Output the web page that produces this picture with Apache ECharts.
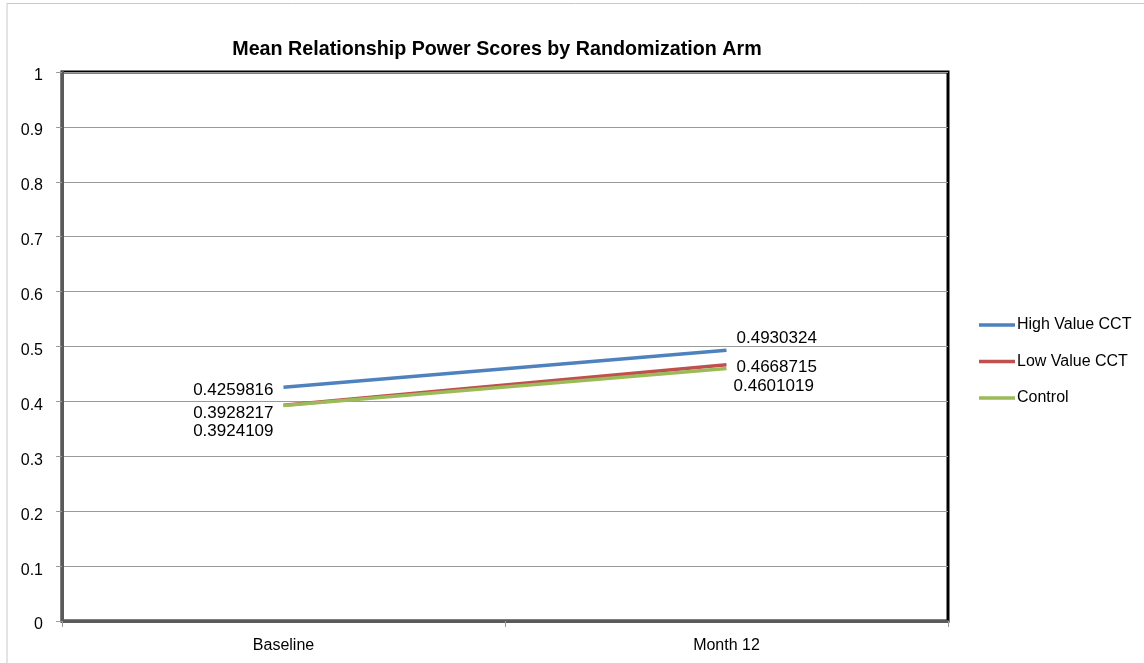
<!DOCTYPE html>
<html>
<head>
<meta charset="utf-8">
<script src="https://cdn.jsdelivr.net/npm/echarts@6/dist/echarts.min.js"></script>
<style>
html,body{margin:0;padding:0;background:#fff;}
#chart{width:1144px;height:663px;}
</style>
</head>
<body>
<div id="chart"></div>
<script>
const categories = ['Baseline', 'Month 12'];
const highValue = [0.4259816, 0.4930324];
const lowValue = [0.3928217, 0.4668715];
const control = [0.3924109, 0.4601019];
const seriesNames = ['High Value CCT', 'Low Value CCT', 'Control'];
const yTicks = [0, 0.1, 0.2, 0.3, 0.4, 0.5, 0.6, 0.7, 0.8, 0.9, 1];

const FONT = '"Liberation Sans", Arial, sans-serif';
const colors = ['#4F81BD', '#C0504D', '#9BBB59'];

function lbl(pos, off) {
  return { show: true, position: pos, distance: 10, offset: off,
    fontFamily: FONT, fontSize: 17, color: '#000', formatter: p => String(p.value) };
}
function mk(values, labelCfg) {
  return values.map((v, i) => ({ value: v, label: labelCfg[i] }));
}
function line(name, values, labels, z) {
  return { name: name, type: 'line', symbol: 'circle', symbolSize: 0.01, showSymbol: true,
    lineStyle: { width: 3.5 }, data: mk(values, labels), z: z };
}

const chart = echarts.init(document.getElementById('chart'));
chart.setOption({
  animation: false,
  backgroundColor: '#fff',
  color: colors,
  title: {
    text: 'Mean Relationship Power Scores by Randomization Arm',
    left: 492, top: 35, textAlign: 'center',
    textStyle: { fontFamily: FONT, fontWeight: 'bold', fontSize: 19.7, color: '#000' }
  },
  graphic: [
    { type: 'line', shape: { x1: 7, y1: 3.5, x2: 1144, y2: 3.5 }, style: { stroke: '#c8c8c8', lineWidth: 1 }, silent: true },
    { type: 'line', shape: { x1: 7, y1: 3.5, x2: 7, y2: 663 }, style: { stroke: '#c8c8c8', lineWidth: 1 }, silent: true }
  ],
  legend: {
    orient: 'vertical',
    left: 974, top: 312,
    icon: 'rect',
    itemWidth: 36, itemHeight: 3.5, itemGap: 20.5,
    data: seriesNames,
    textStyle: { fontFamily: FONT, fontSize: 16, color: '#000', padding: [0, 0, 0, -3], lineHeight: 16 }
  },
  grid: {
    left: 62, right: 196, top: 72, bottom: 42,
    show: true, borderColor: '#000', borderWidth: 3, backgroundColor: '#fff'
  },
  xAxis: {
    type: 'category',
    data: categories,
    boundaryGap: true,
    axisLine: { lineStyle: { color: '#5a5a5a', width: 3 } },
    axisTick: { show: true, length: 6, lineStyle: { color: '#9a9a9a' } },
    axisLabel: { fontFamily: FONT, fontSize: 16, color: '#000', margin: 17 }
  },
  yAxis: {
    type: 'value',
    min: 0, max: 1, interval: 0.1,
    axisLine: { show: true, lineStyle: { color: '#5a5a5a', width: 3 } },
    axisTick: { show: true, length: 6, lineStyle: { color: '#9a9a9a' } },
    axisLabel: { fontFamily: FONT, fontSize: 16, color: '#000', margin: 19,
      formatter: v => { const t = yTicks.find(x => Math.abs(x - v) < 1e-9); return '{a|' + String(t !== undefined ? t : v) + '}'; },
      rich: { a: { fontFamily: FONT, fontSize: 16, color: '#000', padding: [8, 0, 0, 0] } } },
    splitLine: { show: true, lineStyle: { color: '#9a9a9a', width: 1 } }
  },
  series: [
    line(seriesNames[0], highValue, [lbl('left', [0, 3]), lbl('right', [0, -12])], 4),
    line(seriesNames[1], lowValue, [lbl('left', [0, 8]), lbl('right', [0, 3])], 3),
    line(seriesNames[2], control, [lbl('left', [0, 25.5]), lbl('right', [-3, 18])], 5)
  ]
});
</script>
</body>
</html>
